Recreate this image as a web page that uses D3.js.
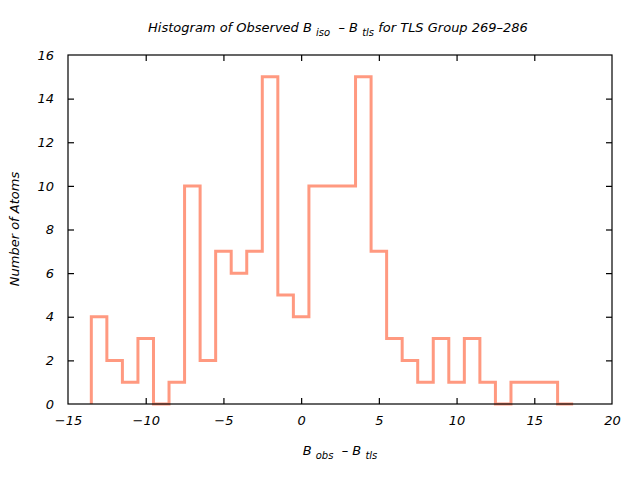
<!DOCTYPE html>
<html><head><meta charset="utf-8">
<script src="https://cdn.jsdelivr.net/npm/d3@7"></script>
<style>
body{margin:0;background:#fff;}
text{font-family:"DejaVu Sans",Verdana,sans-serif;font-style:italic;fill:#000;}
</style></head>
<body><svg id="c" width="640" height="480"></svg>
<script>
// Bin left edges and counts (bin width 1)
const binEdges = [-13.5,-12.5,-11.5,-10.5,-9.5,-8.5,-7.5,-6.5,-5.5,-4.5,-3.5,-2.5,-1.5,-0.5,0.5,1.5,2.5,3.5,4.5,5.5,6.5,7.5,8.5,9.5,10.5,11.5,12.5,13.5,14.5,15.5,16.5];
const counts   = [4,2,1,3,0,1,10,2,7,6,7,15,5,4,10,10,10,15,7,3,2,1,3,1,3,1,0,1,1,1,0];
const xTicks = [-15,-10,-5,0,5,10,15,20];
const yTicks = [0,2,4,6,8,10,12,14,16];

const svg = d3.select("#c");
const L=68,R=612,T=55,B=404;
const x = d3.scaleLinear().domain([-15,20]).range([L,R]);
const y = d3.scaleLinear().domain([0,16]).range([B,T]);

// histogram step path
let d = `M${x(binEdges[0])},${y(0)}`;
binEdges.forEach((e,i)=>{ d += `V${y(counts[i])}H${x(e+1)}`; });
svg.append("path").attr("d",d).attr("fill","none").attr("stroke","#ff9980").attr("stroke-width",3);

// border
svg.append("rect").attr("x",L).attr("y",T).attr("width",R-L).attr("height",B-T)
  .attr("fill","none").attr("stroke","#000").attr("stroke-width",1.2);

const tl=6;
const gx = svg.append("g").attr("transform",`translate(0,${B})`)
  .call(d3.axisBottom(x).tickValues(xTicks).tickSize(-tl).tickPadding(12));
const gx2 = svg.append("g").attr("transform",`translate(0,${T})`)
  .call(d3.axisTop(x).tickValues(xTicks).tickSize(-tl).tickFormat(""));
const gy = svg.append("g").attr("transform",`translate(${L},0)`)
  .call(d3.axisLeft(y).tickValues(yTicks).tickSize(-tl).tickPadding(14));
const gy2 = svg.append("g").attr("transform",`translate(${R},0)`)
  .call(d3.axisRight(y).tickValues(yTicks).tickSize(-tl).tickFormat(""));
[gx,gx2,gy,gy2].forEach(g=>{
  g.select(".domain").remove();
  g.selectAll("line").attr("stroke","#000").attr("stroke-width",1.2);
  g.selectAll("text").style("font-family","'DejaVu Sans',Verdana,sans-serif").style("font-style","italic").attr("font-size",13).attr("fill","#000");
});
gx.selectAll(".tick").filter(v=>v===xTicks[0]||v===xTicks[xTicks.length-1]).select("line").remove();
gx2.selectAll(".tick").filter(v=>v===xTicks[0]||v===xTicks[xTicks.length-1]).select("line").remove();
gy.selectAll(".tick").filter(v=>v===0||v===16).select("line").remove();
gy2.selectAll(".tick").filter(v=>v===0||v===16).select("line").remove();

const sp = "\u00a0";
// title
const t = svg.append("text").attr("x",338).attr("y",32).attr("text-anchor","middle").attr("font-size",13);
t.append("tspan").text("Histogram of Observed B" + sp);
t.append("tspan").attr("font-size",10).attr("dy",4).text("iso");
t.append("tspan").attr("dy",-4).text(sp+sp+"\u2013"+sp+"B"+sp);
t.append("tspan").attr("font-size",10).attr("dy",4).text("tls");
t.append("tspan").attr("dy",-4).text(sp+"for TLS Group 269\u2013286");

// x label
const xl = svg.append("text").attr("x",340).attr("y",455).attr("text-anchor","middle").attr("font-size",13);
xl.append("tspan").text("B"+sp);
xl.append("tspan").attr("font-size",10).attr("dy",4).text("obs");
xl.append("tspan").attr("dy",-4).text(sp+sp+"\u2013"+sp+"B"+sp);
xl.append("tspan").attr("font-size",10).attr("dy",4).text("tls");

// y label
svg.append("text").attr("transform","translate(19,229) rotate(-90)").attr("text-anchor","middle")
  .attr("font-size",13).text("Number of Atoms");
</script></body></html>
